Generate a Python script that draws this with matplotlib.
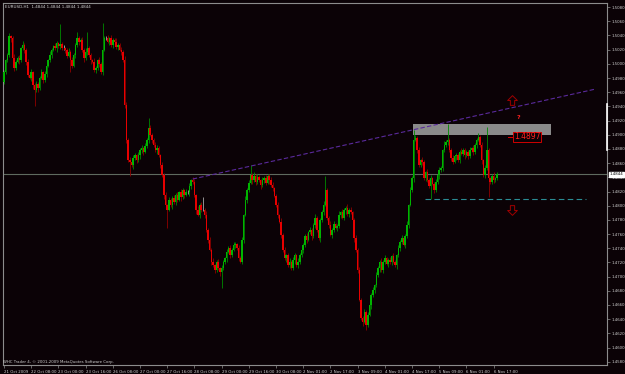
import matplotlib.pyplot as plt
from matplotlib.path import Path
from matplotlib.transforms import blended_transform_factory

# EURUSD H1 closes (first open 1.4975)
first_open = 1.4975
closes = [
    1.4988, 1.5005, 1.5012, 1.5039, 1.5036, 1.5008, 1.4994, 1.5003, 1.5008, 1.5005,
    1.5022, 1.5027, 1.5020, 1.5003, 1.4984, 1.4980, 1.4988, 1.4970, 1.4963, 1.4972,
    1.4966, 1.4980, 1.4988, 1.4977, 1.4986, 1.4997, 1.5005, 1.5012, 1.5020, 1.5025,
    1.5022, 1.5029, 1.5025, 1.5028, 1.5022, 1.5022, 1.5020, 1.5011, 1.5017, 1.5005,
    1.4997, 1.5012, 1.5027, 1.5036, 1.5031, 1.5034, 1.5020, 1.5008, 1.5017, 1.5022,
    1.5012, 1.5005, 1.5003, 1.4991, 1.4994, 1.5005, 1.5000, 1.4988, 1.5020, 1.5036,
    1.5036, 1.5031, 1.5036, 1.5027, 1.5034, 1.5031, 1.5024, 1.5027, 1.5020, 1.5017,
    1.5005, 1.4942, 1.4893, 1.4864, 1.4862, 1.4857, 1.4867, 1.4871, 1.4864, 1.4871,
    1.4878, 1.4881, 1.4876, 1.4884, 1.4893, 1.4910, 1.4900, 1.4893, 1.4886, 1.4878,
    1.4881, 1.4871, 1.4857, 1.4843, 1.4815, 1.4801, 1.4794, 1.4808, 1.4801, 1.4811,
    1.4805, 1.4815, 1.4808, 1.4819, 1.4812, 1.4822, 1.4815, 1.4819, 1.4819, 1.4828,
    1.4836, 1.4833, 1.4815, 1.4794, 1.4787, 1.4801, 1.4794, 1.4794, 1.4787, 1.4766,
    1.4752, 1.4738, 1.4721, 1.4716, 1.4709, 1.4721, 1.4712, 1.4706, 1.4712, 1.4721,
    1.4726, 1.4735, 1.4740, 1.4730, 1.4738, 1.4745, 1.4746, 1.4740, 1.4726, 1.4721,
    1.4752, 1.4787, 1.4808, 1.4822, 1.4832, 1.4843, 1.4836, 1.4842, 1.4833, 1.4840,
    1.4836, 1.4829, 1.4836, 1.4839, 1.4832, 1.4842, 1.4836, 1.4829, 1.4825, 1.4814,
    1.4801, 1.4787, 1.4777, 1.4759, 1.4738, 1.4726, 1.4730, 1.4716, 1.4721, 1.4712,
    1.4723, 1.4730, 1.4716, 1.4721, 1.4730, 1.4738, 1.4745, 1.4757, 1.4752, 1.4763,
    1.4766, 1.4757, 1.4773, 1.4783, 1.4766, 1.4754, 1.4780, 1.4791, 1.4801, 1.4822,
    1.4783, 1.4773, 1.4759, 1.4766, 1.4774, 1.4769, 1.4771, 1.4787, 1.4791, 1.4783,
    1.4794, 1.4797, 1.4788, 1.4794, 1.4791, 1.4780, 1.4754, 1.4738, 1.4709, 1.4667,
    1.4642, 1.4636, 1.4650, 1.4632, 1.4646, 1.4660, 1.4674, 1.4681, 1.4688, 1.4702,
    1.4712, 1.4721, 1.4709, 1.4721, 1.4726, 1.4718, 1.4723, 1.4721, 1.4729, 1.4721,
    1.4716, 1.4730, 1.4740, 1.4749, 1.4754, 1.4745, 1.4757, 1.4773, 1.4801, 1.4822,
    1.4839, 1.4893, 1.4895, 1.4878, 1.4857, 1.4864, 1.4862, 1.4839, 1.4847, 1.4836,
    1.4828, 1.4839, 1.4831, 1.4822, 1.4833, 1.4843, 1.4850, 1.4853, 1.4878, 1.4886,
    1.4890, 1.4893, 1.4878, 1.4867, 1.4862, 1.4870, 1.4871, 1.4864, 1.4876, 1.4873,
    1.4878, 1.4871, 1.4876, 1.4870, 1.4878, 1.4881, 1.4876, 1.4886, 1.4893, 1.4897,
    1.4886, 1.4864, 1.4843, 1.4853, 1.4878, 1.4839, 1.4833, 1.4842, 1.4836, 1.4839,
    1.4844,
]

# wick lengths above / below the body, in pips
wick_up = [
    3, 2, 4, 5, 2, 3, 6, 2, 3, 4, 2, 5, 3, 2, 4, 3, 5, 2, 3, 4,
    2, 3, 5, 2, 4, 3, 2, 6, 3, 2, 4, 3, 2, 5, 3, 4, 2, 3, 5, 2,
    4, 3, 2, 5, 3, 2, 4, 3, 6, 2, 3, 4, 2, 5, 3, 2, 4, 3, 2, 3,
    3, 5, 2, 4, 3, 2, 5, 3, 2, 4, 3, 6, 4, 3, 5, 2, 4, 3, 2, 5,
    3, 4, 2, 5, 3, 6, 4, 3, 2, 4, 5, 3, 2, 4, 3, 5, 2, 4, 3, 2,
    4, 3, 5, 2, 4, 3, 2, 5, 3, 4, 2, 3, 4, 2, 5, 3, 4, 2, 3, 5,
    2, 4, 3, 5, 2, 3, 4, 2, 5, 3, 2, 4, 3, 5, 2, 4, 3, 2, 5, 3,
    4, 2, 5, 3, 4, 2, 3, 5, 2, 4, 3, 2, 5, 3, 4, 2, 3, 5, 4, 2,
    3, 4, 2, 5, 3, 4, 2, 3, 5, 2, 4, 3, 2, 5, 3, 4, 2, 3, 5, 2,
    4, 3, 2, 5, 3, 4, 2, 3, 6, 4, 3, 2, 5, 3, 4, 2, 3, 5, 2, 4,
    3, 2, 5, 3, 4, 2, 3, 5, 2, 4, 3, 2, 5, 3, 4, 2, 3, 5, 2, 4,
    3, 2, 5, 3, 4, 2, 3, 5, 2, 4, 3, 2, 5, 3, 4, 2, 3, 5, 2, 4,
    3, 6, 4, 3, 5, 2, 4, 3, 2, 5, 3, 4, 2, 3, 5, 2, 4, 3, 2, 5,
    3, 4, 2, 3, 5, 2, 4, 3, 2, 5, 3, 4, 2, 3, 5, 2, 4, 3, 2, 5,
    3, 4, 2, 5, 3, 4, 2, 3, 5, 2, 3,
]
wick_dn = [
    4, 3, 2, 3, 5, 2, 4, 3, 2, 5, 3, 2, 4, 5, 3, 2, 4, 6, 3, 2,
    5, 3, 2, 4, 3, 5, 2, 3, 4, 2, 3, 5, 2, 4, 3, 2, 5, 3, 2, 4,
    3, 2, 4, 3, 5, 2, 3, 6, 2, 4, 3, 5, 2, 3, 4, 2, 5, 3, 4, 2,
    3, 2, 4, 3, 5, 2, 3, 4, 2, 5, 3, 4, 5, 3, 4, 2, 5, 3, 4, 2,
    5, 3, 4, 2, 3, 5, 2, 4, 3, 2, 5, 3, 4, 2, 5, 3, 4, 2, 3, 5,
    2, 4, 3, 2, 5, 3, 4, 2, 3, 5, 4, 2, 3, 5, 2, 4, 3, 2, 5, 3,
    4, 2, 5, 3, 4, 2, 3, 5, 4, 2, 3, 5, 2, 4, 3, 2, 5, 3, 4, 2,
    3, 5, 2, 4, 3, 2, 5, 3, 4, 2, 3, 5, 2, 4, 3, 2, 5, 3, 4, 2,
    3, 5, 2, 4, 3, 2, 5, 3, 4, 2, 3, 5, 2, 4, 3, 2, 5, 3, 4, 2,
    3, 5, 2, 4, 3, 2, 5, 3, 4, 2, 3, 5, 2, 4, 3, 2, 5, 3, 4, 2,
    3, 5, 2, 4, 3, 2, 5, 3, 4, 2, 3, 5, 2, 6, 3, 2, 5, 3, 4, 2,
    3, 5, 2, 4, 3, 2, 5, 3, 4, 2, 3, 5, 2, 4, 3, 2, 5, 3, 4, 2,
    3, 5, 2, 4, 3, 2, 5, 3, 4, 2, 3, 5, 2, 4, 3, 2, 5, 3, 4, 2,
    3, 5, 2, 4, 3, 2, 5, 3, 4, 2, 3, 5, 2, 4, 3, 2, 5, 3, 4, 2,
    3, 5, 2, 4, 3, 5, 2, 3, 4, 2, 3,
]

# bars whose shadow reaches far beyond the usual
spike_hi = {3: 1.5043, 33: 1.5056, 43: 1.5045, 49: 1.5045, 58: 1.5058, 85: 1.4924,
            111: 1.4840, 117: 1.4812, 145: 1.4857, 189: 1.4842, 241: 1.4907,
            261: 1.4915, 284: 1.4911}
spike_lo = {18: 1.4941, 39: 1.4988, 74: 1.4842, 96: 1.4769, 128: 1.4684,
            213: 1.4625, 251: 1.4809, 285: 1.4812}

# time axis: a label every 16 bars
tick_bars = list(range(0, 289, 16))
tick_labels = ["21 Oct 2009", "22 Oct 08:00", "23 Oct 00:00", "23 Oct 16:00",
               "26 Oct 08:00", "27 Oct 00:00", "27 Oct 16:00", "28 Oct 08:00",
               "29 Oct 00:00", "29 Oct 16:00", "30 Oct 08:00", "2 Nov 01:00",
               "2 Nov 17:00", "3 Nov 09:00", "4 Nov 01:00", "4 Nov 17:00",
               "5 Nov 09:00", "6 Nov 01:00", "6 Nov 17:00"]
price_ticks = [1.4580 + 0.0020 * k for k in range(26)]

# objects drawn on the chart
last_price = 1.4844
trend_pts = ([111, 348], [1.48376, 1.49645])
support = ([247.6, 342.4], 1.4809)
zone = (240.6, 321.8, 1.4900, 1.4915)
price_mark = 1.4897

bg = "#0b0206"
pip = 0.0001

opens, highs, lows = [], [], []
prev = first_open
for i, c in enumerate(closes):
    o = prev
    opens.append(o)
    highs.append(spike_hi.get(i, max(o, c) + wick_up[i] * pip))
    lows.append(spike_lo.get(i, min(o, c) - wick_dn[i] * pip))
    prev = c

fig = plt.figure(figsize=(6.25, 3.74), dpi=100, facecolor=bg)
ax = fig.add_axes([3 / 625, 9 / 374, 604 / 625, 362 / 374])
ax.set_facecolor(bg)

x = list(range(len(closes)))
body_col, wick_col, heights, bottoms = [], [], [], []
for o, c in zip(opens, closes):
    if c > o:
        body_col.append("#00b400")
        wick_col.append("#008a00")
    elif c < o:
        body_col.append("#e80000")
        wick_col.append("#900000")
    else:
        body_col.append("#a8a8a8")
        wick_col.append("#a8a8a8")
    heights.append(max(abs(c - o), 0.00006))
    bottoms.append(min(o, c))

# grey zone behind the candles
ax.fill_between([zone[0], zone[1]], zone[2], zone[3], color="#8a8a8a", lw=0, zorder=1)
ax.axhline(last_price, color="#5f6a5f", lw=0.8, zorder=2)

ax.vlines(x, lows, highs, colors=wick_col, lw=0.6, zorder=3)
ax.bar(x, heights, bottom=bottoms, width=0.85, color=body_col, lw=0, zorder=4)

ax.plot(trend_pts[0], trend_pts[1], color="#5a2a9c", lw=0.8, dashes=(4, 2), zorder=5)
ax.plot(support[0], [support[1]] * 2, color="#2a8c94", lw=0.8, dashes=(5, 3), zorder=5)

# hollow arrows above and below the zone
up_arrow = Path([(-0.22, -0.5), (0.22, -0.5), (0.22, 0.0), (0.5, 0.0), (0.0, 0.5),
                 (-0.5, 0.0), (-0.22, 0.0), (-0.22, -0.5)], closed=True)
dn_arrow = Path([(px, -py) for px, py in up_arrow.vertices], closed=True)
ax.plot([298.8], [1.4949], marker=up_arrow, ms=7, mfc="none", mec="#a00000", mew=0.7,
        ls="none", zorder=6)
ax.plot([298.8], [1.4794], marker=dn_arrow, ms=7, mfc="none", mec="#a00000", mew=0.7,
        ls="none", zorder=6)
ax.text(302.4, 1.4925, "?", color="#ff2020", fontsize=4.5, fontweight="bold",
        ha="center", va="center", zorder=6)
ax.plot([296.6, 299.4], [price_mark] * 2, color="#e00000", lw=0.7, zorder=6)
ax.text(300.0, price_mark, f"{price_mark:.4f}", color="#ff2020", fontsize=5.5,
        ha="left", va="center", zorder=6,
        bbox=dict(facecolor=bg, edgecolor="#d00000", lw=0.7, pad=0.6))

ax.set_xlim(-0.6, -0.6 + 604 / 1.7)
ax.set_ylim(1.45754, 1.50858)

for s in ax.spines.values():
    s.set_color("#8c8c8c")
    s.set_linewidth(0.8)

ax.yaxis.tick_right()
ax.set_yticks(price_ticks)
ax.set_yticklabels([f"{p:.4f}" for p in price_ticks])
ax.tick_params(axis="y", colors="#8c8c8c", labelcolor="#d0d0d0", labelsize=2.8,
               length=2, width=0.5, pad=1.5)
ax.set_xticks(tick_bars)
ax.set_xticklabels(tick_labels)
ax.tick_params(axis="x", colors="#8c8c8c", labelcolor="#d0d0d0", labelsize=2.8,
               length=2.5, width=0.5, pad=0.8)
for lab in ax.get_xticklabels():
    lab.set_ha("left")

trans = blended_transform_factory(ax.transAxes, ax.transData)
ax.plot([1.0, 1.0], [1.4879, 1.4943], color="white", lw=1.2, transform=trans,
        clip_on=False, zorder=7)
ax.text(1.004, last_price, f"{last_price:.4f}", transform=trans, fontsize=2.8,
        color="black", ha="left", va="center", zorder=8,
        bbox=dict(facecolor="white", edgecolor="white", pad=0.3))

ax.text(0.003, 0.994, "EURUSD,H1  1.4844 1.4844 1.4844 1.4844", transform=ax.transAxes,
        fontsize=3, color="#d0d0d0", ha="left", va="top")
ax.text(0.0, 0.003, "WHC Trader 4, \u00a9 2001-2009 MetaQuotes Software Corp.",
        transform=ax.transAxes, fontsize=2.8, color="#d0d0d0", ha="left", va="bottom")

fig.savefig("out.png", dpi=100, facecolor=bg)
